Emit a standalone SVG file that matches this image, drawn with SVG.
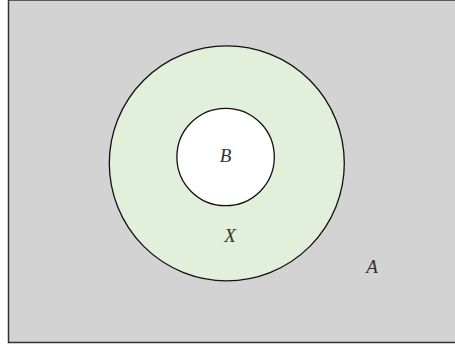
<svg xmlns="http://www.w3.org/2000/svg" width="455" height="349" viewBox="0 0 455 349">
<style>
.lbl{font-family:"Liberation Serif","DejaVu Serif",serif;font-style:italic;font-size:19px;fill:#333;text-anchor:middle}
.c{stroke:#111;stroke-width:1.3}
</style>
<g id="A"><rect x="8.5" y="0" width="450" height="342.5" fill="#d3d3d3" stroke="#333" stroke-width="1.5"/><text class="lbl" x="372" y="273">A</text></g>
<g id="X"><circle class="c" cx="226.8" cy="163.3" r="117.5" fill="#e2efda"/><text class="lbl" x="230" y="242">X</text></g>
<g id="B"><circle class="c" cx="225.6" cy="157" r="48.7" fill="#fff"/><text class="lbl" x="225.5" y="162">B</text></g>
<g id="connectors"/>
</svg>
